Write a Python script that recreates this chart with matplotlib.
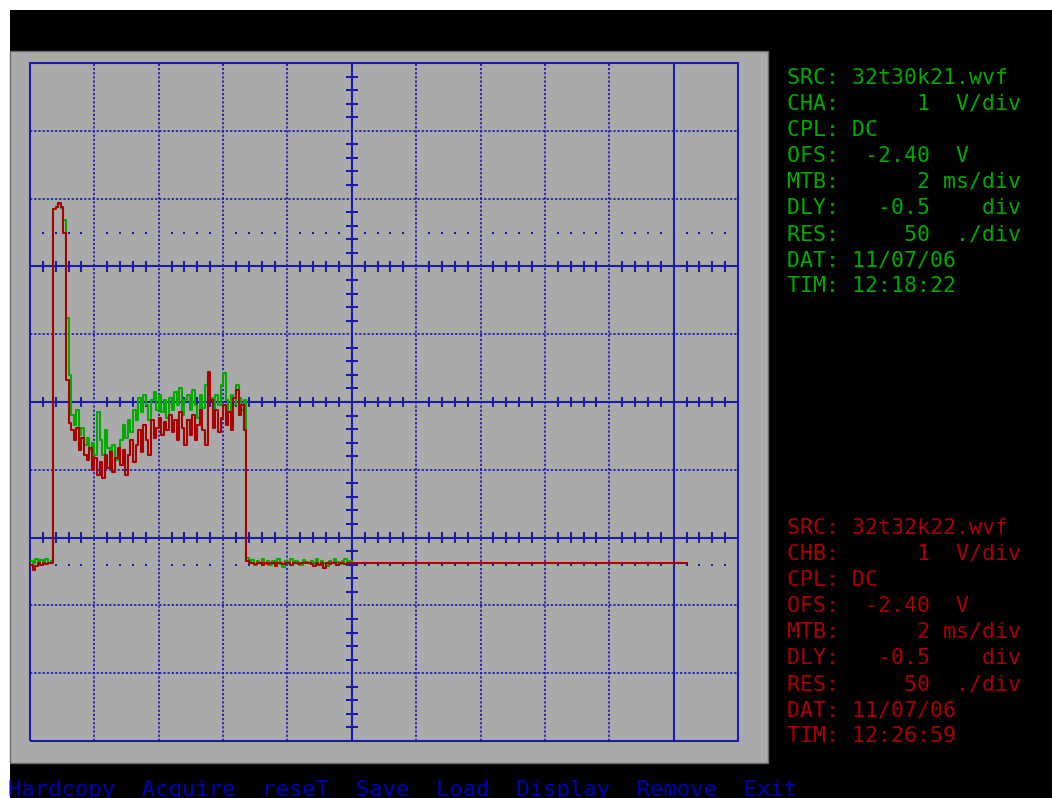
import numpy as np
import matplotlib
matplotlib.use('Agg')
import matplotlib.pyplot as plt
from matplotlib.patches import Rectangle

# scope screen: 11 x 10 divisions, 2 ms/div, 1 V/div
ms_per_div = 2.0
sample_ms = 0.08
divs_x = 11
divs_y = 10

# channel A (green) screen volts, one value per sample
cha_volts = [
    2.66, 2.62, 2.68, 2.63, 2.67, 2.64, 2.68, 2.63, 2.66,
    7.85, 7.88, 7.92, 7.86,
    7.68, 6.24, 5.40,
    4.81, 4.66, 4.88, 4.51, 4.62, 4.37, 4.47, 4.29, 4.40, 4.22,
    4.85, 4.44, 4.22, 4.59, 4.32, 4.17, 4.37, 4.14, 4.29, 4.44,
    4.66, 4.47, 4.73, 4.56, 4.88, 4.73, 5.06, 4.85, 5.10, 4.96,
    4.73, 5.03, 5.15, 4.88, 5.10, 4.85, 5.03, 4.76, 5.06, 4.88,
    5.15, 4.96, 5.21, 4.81, 5.03, 5.10, 4.88, 5.18, 4.96, 4.76,
    5.10, 4.91, 5.25, 5.40, 5.06, 4.88, 5.10, 4.96, 5.25, 5.43,
    5.03, 4.85, 5.10, 4.96, 5.25, 5.06, 4.88, 5.03,
    2.70, 2.64, 2.67, 2.60, 2.66, 2.63, 2.68, 2.62, 2.65, 2.59,
    2.66, 2.63, 2.68, 2.61, 2.56, 2.66, 2.64, 2.69, 2.62, 2.66,
    2.63, 2.60, 2.67, 2.64, 2.62, 2.66, 2.63, 2.69, 2.61, 2.65,
    2.62, 2.58, 2.66, 2.63, 2.68, 2.64, 2.61, 2.66, 2.69, 2.63,
    2.65, 2.62,
]

# channel B (red) screen volts
chb_volts = [
    2.60, 2.52, 2.58, 2.62, 2.60, 2.63, 2.61, 2.63, 2.62,
    7.85, 7.88, 7.93, 7.87,
    7.49, 5.32, 4.69,
    4.59, 4.44, 4.62, 4.29, 4.47, 4.22, 4.14, 4.32, 4.00, 4.17,
    3.92, 4.11, 3.88, 4.22, 4.03, 4.26, 3.97, 4.17, 4.32, 4.07,
    4.29, 3.92, 4.22, 4.44, 4.11, 4.37, 4.59, 4.26, 4.66, 4.44,
    4.22, 4.73, 4.47, 4.62, 4.76, 4.51, 4.70, 4.59, 4.81, 4.56,
    4.73, 4.44, 4.85, 4.62, 4.37, 4.73, 4.51, 4.81, 4.44, 4.66,
    4.88, 4.59, 4.37, 5.44, 5.03, 4.62, 4.88, 4.56, 4.76, 4.96,
    4.66, 4.85, 4.59, 5.06, 5.18, 4.81, 4.96, 4.59,
    2.66, 2.62, 2.63, 2.61, 2.62, 2.63, 2.60, 2.62, 2.61, 2.63,
    2.62, 2.58, 2.62, 2.63, 2.61, 2.62, 2.62, 2.60, 2.63, 2.62,
    2.61, 2.62, 2.63, 2.62, 2.62, 2.61, 2.58, 2.62, 2.60, 2.62,
    2.55, 2.62, 2.61, 2.63, 2.62, 2.60, 2.62, 2.63, 2.61, 2.62,
    2.62, 2.62,
]
# channel B keeps its last level out to here
chb_hold_end_ms = 20.4
chb_hold_volts = 2.62

# marker rows (trigger level and ground)
marker_levels = [7.5, 2.6]

cha_lines = ["SRC: 32t30k21.wvf", "CHA:      1  V/div", "CPL: DC",
             "OFS:  -2.40  V", "MTB:      2 ms/div", "DLY:   -0.5    div",
             "RES:     50  ./div", "DAT: 11/07/06", "TIM: 12:18:22"]
chb_lines = ["SRC: 32t32k22.wvf", "CHB:      1  V/div", "CPL: DC",
             "OFS:  -2.40  V", "MTB:      2 ms/div", "DLY:   -0.5    div",
             "RES:     50  ./div", "DAT: 11/07/06", "TIM: 12:26:59"]
menu_items = ["Hardcopy", "Acquire", "reseT", "Save", "Load", "Display", "Remove", "Exit"]

# EGA colours
GRAY = '#aaaaaa'
BLUE = '#1c1cac'
GREEN = '#00aa00'
RED = '#aa0000'

W, H = 1052, 798
plt.rcParams['font.family'] = ['DejaVu Sans Mono']

fig = plt.figure(figsize=(W / 100, H / 100), dpi=100)
fig.patch.set_facecolor('white')

# black screen and gray plot panel, in pixel terms
def px_rect(x0, y0, x1, y1, **kw):
    fig.patches.append(Rectangle((x0 / W, 1 - y1 / H), (x1 - x0) / W, (y1 - y0) / H,
                                 transform=fig.transFigure, zorder=0, **kw))

px_rect(10, 10, W, H, facecolor='black', edgecolor='none')
px_rect(10, 51, 768, 763, facecolor=GRAY, edgecolor='#6a6a6a', linewidth=1)

ax = fig.add_axes([30 / W, 1 - 741 / H, 708 / W, 678 / H])
ax.set_zorder(5)
ax.set_facecolor('none')
xmax = divs_x * ms_per_div
ax.set_xlim(0, xmax)
ax.set_ylim(0, divs_y)
ax.axis('off')

dotted = dict(color=BLUE, lw=1.25, linestyle=(0, (1.3, 1.1)))
solid = dict(color=BLUE, lw=1.5, solid_capstyle='butt')

# vertical grid
for k in range(1, divs_x):
    x = k * ms_per_div
    if k in (5, 10):
        ax.axvline(x, **solid)
    else:
        ax.axvline(x, **dotted)
# horizontal grid
for k in range(1, divs_y):
    if k in (3, 5, 7):
        ax.axhline(k, **solid)
    else:
        ax.axhline(k, **dotted)
# frame
ax.plot([0, xmax, xmax, 0, 0], [0, 0, divs_y, divs_y, 0], clip_on=False, **solid)

# minor ticks on the solid lines
sub_x = np.arange(1, divs_x * 5) * ms_per_div / 5
sub_x = sub_x[np.arange(1, divs_x * 5) % 5 != 0]
for level in (3, 5, 7):
    ax.vlines(sub_x, level - 0.08, level + 0.08, color=BLUE, lw=1.5)
sub_y = np.arange(1, divs_y * 5) / 5
sub_y = sub_y[np.arange(1, divs_y * 5) % 5 != 0]
ax.hlines(sub_y, 5 * ms_per_div - 0.18, 5 * ms_per_div + 0.18, color=BLUE, lw=1.5)

# marker rows of dots
for level in marker_levels:
    ax.plot(sub_x, [level] * len(sub_x), 's', ms=1.6, color=BLUE, mew=0)

# traces
t_a = np.arange(len(cha_volts)) * sample_ms
t_b = np.arange(len(chb_volts)) * sample_ms
ax.plot(t_a, cha_volts, color=GREEN, lw=1.5, drawstyle='steps-post')
ax.plot(np.append(t_b, chb_hold_end_ms), np.append(chb_volts, chb_hold_volts),
        color=RED, lw=1.5, drawstyle='steps-post')

# info panels
def panel(lines, top_baseline, color):
    for i, s in enumerate(lines):
        y = top_baseline + i * 26.1
        fig.text(787 / W, 1 - y / H, s, color=color, fontsize=15.5, va='baseline', ha='left')

panel(cha_lines, 83.5, GREEN)
panel(chb_lines, 533.5, RED)

# menu bar
fig.text(8 / W, 1 - 796 / H, "  ".join(menu_items), color='#0000b4', fontsize=16,
         va='baseline', ha='left')

fig.savefig('out.png', dpi=100, facecolor=fig.get_facecolor())
